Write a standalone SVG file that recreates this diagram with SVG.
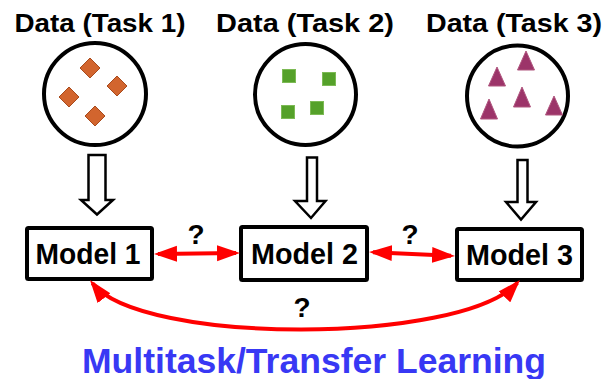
<svg xmlns="http://www.w3.org/2000/svg" width="606" height="379" viewBox="0 0 606 379">
<style>
.title{font-family:"Liberation Sans",Arial,sans-serif;font-weight:bold;font-size:26.5px;fill:#000;text-anchor:middle}
.model{font-family:"Liberation Sans",Arial,sans-serif;font-weight:bold;font-size:29px;fill:#000;text-anchor:middle}
.q{font-family:"Liberation Sans",Arial,sans-serif;font-weight:bold;font-size:28px;fill:#000;text-anchor:middle}
.big{font-family:"Liberation Sans",Arial,sans-serif;font-weight:bold;font-size:35px;fill:#3838F4;text-anchor:middle}
.circ{fill:#fff;stroke:#000;stroke-width:4}
.box{fill:#fff;stroke:#000;stroke-width:4}
.hollow{fill:#fff;stroke:#000;stroke-width:2.5;stroke-linejoin:miter}
.dia{fill:#D2652E;stroke:#A84A1C;stroke-width:1}
.sq{fill:#55A12A;stroke:#7DBA55;stroke-width:1}
.tri{fill:#9C3469;stroke:#B0567F;stroke-width:1}
.red{fill:none;stroke:#FF0000;stroke-width:4}
</style>
<defs>
<marker id="ah" markerUnits="userSpaceOnUse" markerWidth="24" markerHeight="18" viewBox="0 0 24 18" refX="19" refY="9" orient="auto-start-reverse">
<path d="M0,1 L23,9 L0,17 z" fill="#FF0000"/>
</marker>
</defs>

<g id="task1">
<text class="title" x="100" y="32" textLength="171" lengthAdjust="spacingAndGlyphs">Data (Task 1)</text>
<circle class="circ" cx="95" cy="94" r="51"/>
<polygon class="dia" points="90,58 100,68 90,78 80,68"/>
<polygon class="dia" points="117,76 127,86 117,96 107,86"/>
<polygon class="dia" points="69,87 79,97 69,107 59,97"/>
<polygon class="dia" points="95,106 105,116 95,126 85,116"/>
</g>

<g id="task2">
<text class="title" x="305" y="32" textLength="178" lengthAdjust="spacingAndGlyphs">Data (Task 2)</text>
<circle class="circ" cx="305.5" cy="94.5" r="50.5"/>
<rect class="sq" x="282.5" y="69.5" width="13" height="13"/>
<rect class="sq" x="322.5" y="72.5" width="13" height="13"/>
<rect class="sq" x="281.5" y="105.5" width="13" height="13"/>
<rect class="sq" x="310.5" y="101.5" width="13" height="13"/>
</g>

<g id="task3">
<text class="title" x="514" y="32" textLength="176" lengthAdjust="spacingAndGlyphs">Data (Task 3)</text>
<circle class="circ" cx="517.5" cy="96" r="50.5"/>
<polygon class="tri" points="526,51 534.5,70 517.5,70"/>
<polygon class="tri" points="497,67 505.5,86 488.5,86"/>
<polygon class="tri" points="522,87 530.5,107 513.5,107"/>
<polygon class="tri" points="489,99 497.5,119 480.5,119"/>
<polygon class="tri" points="554,96 562.5,115 545.5,115"/>
</g>

<g id="model1">
<rect class="box" x="27" y="228" width="125" height="51" rx="1.5"/>
<text class="model" x="88" y="263.5" textLength="105" lengthAdjust="spacingAndGlyphs">Model 1</text>
</g>
<g id="model2">
<rect class="box" x="241" y="227" width="126" height="53" rx="1.5"/>
<text class="model" x="304.5" y="263.5" textLength="107" lengthAdjust="spacingAndGlyphs">Model 2</text>
</g>
<g id="model3">
<rect class="box" x="457" y="229" width="125" height="51" rx="1.5"/>
<text class="model" x="519.5" y="264.5" textLength="107" lengthAdjust="spacingAndGlyphs">Model 3</text>
</g>

<g id="connectors">
<polygon class="hollow" points="88.5,155 105.5,155 105.5,200 113,200 97,214.5 81,200 88.5,200"/>
<polygon class="hollow" points="307,157.5 317,157.5 317,201 325.5,201 311,218 295,201 307,201"/>
<polygon class="hollow" points="517.5,160 527.5,160 527.5,202 536,202 521,219.5 506,202 517.5,202"/>
<line class="red" x1="158" y1="254" x2="236" y2="253" marker-start="url(#ah)" marker-end="url(#ah)"/>
<line class="red" x1="373" y1="252.2" x2="451" y2="255.8" marker-start="url(#ah)" marker-end="url(#ah)"/>
<path class="red" d="M92.4,283.2 C140,345 460,345 517.3,282.9" marker-start="url(#ah)" marker-end="url(#ah)"/>
<text class="q" x="196" y="243.5">?</text>
<text class="q" x="410" y="243.5">?</text>
<text class="q" x="302" y="316.5">?</text>
</g>

<text class="big" x="314" y="373" textLength="464" lengthAdjust="spacingAndGlyphs">Multitask/Transfer Learning</text>
</svg>
